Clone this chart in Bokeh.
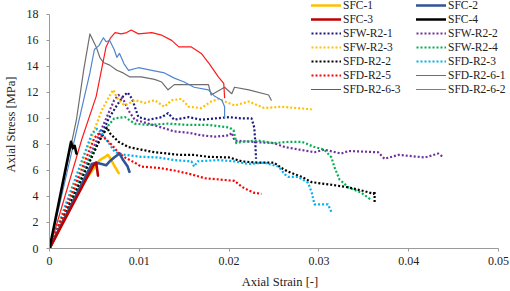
from bokeh.plotting import figure
from bokeh.models import Legend, LegendItem, FixedTicker, Range1d
from bokeh.embed import file_html
from bokeh.resources import INLINE

# ---------------- data ----------------
sfc1_x = [0, 0.0036, 0.0052, 0.0056, 0.0061, 0.0065, 0.0068, 0.0072, 0.0077]
sfc1_y = [0, 4.9, 6.4, 6.8, 7.0, 7.2, 6.9, 6.4, 5.8]

sfc2_x = [0, 0.0047, 0.0052, 0.0058, 0.0063, 0.0067, 0.0072, 0.0078, 0.0082, 0.0087, 0.0089]
sfc2_y = [0, 6.5, 6.6, 6.5, 6.4, 6.7, 7.0, 7.3, 6.8, 6.3, 5.9]

sfc3_x = [0, 0.0049, 0.0052, 0.0053, 0.0054]
sfc3_y = [0, 6.4, 6.6, 6.1, 5.6]

sfc4_x = [0, 0.0024, 0.0026, 0.0028, 0.0030]
sfc4_y = [0, 8.2, 7.7, 7.9, 7.3]

sfw1_x = [0, 0.0066, 0.0075, 0.0082, 0.0087, 0.0092, 0.0095, 0.0099, 0.0110, 0.0125, 0.0132,
          0.0139, 0.0155, 0.0169, 0.0184, 0.0200, 0.0214, 0.0225, 0.0228, 0.0229, 0.0230]
sfw1_y = [0, 10.0, 11.0, 11.7, 12.0, 11.5, 10.9, 10.1, 9.9, 10.1, 10.4,
          9.9, 10.1, 9.9, 10.0, 10.1, 10.0, 10.0, 9.3, 8.3, 6.9]

sfw2_x = [0, 0.0065, 0.0072, 0.0077, 0.0082, 0.0088, 0.0095, 0.0110, 0.0125, 0.0139, 0.0155,
          0.0169, 0.0184, 0.0200, 0.0203, 0.0206, 0.0225, 0.0250, 0.0262, 0.0295, 0.0306,
          0.0325, 0.0333, 0.0366, 0.0373, 0.0389, 0.0418, 0.0433, 0.0439]
sfw2_y = [0, 10.3, 11.4, 11.8, 11.5, 10.6, 9.9, 9.6, 9.3, 9.0, 8.9,
          8.7, 8.6, 8.7, 8.9, 8.3, 8.2, 8.1, 7.8, 7.4, 7.6,
          7.3, 7.5, 7.4, 6.9, 7.2, 7.0, 7.3, 7.0]

sfw3_x = [0, 0.0058, 0.0065, 0.0071, 0.0075, 0.0080, 0.0084, 0.0095, 0.0106, 0.0117, 0.0128,
          0.0136, 0.0147, 0.0155, 0.0169, 0.0180, 0.0188, 0.0206, 0.0222, 0.0239, 0.0258,
          0.0275, 0.0292]
sfw3_y = [0, 10.6, 11.5, 12.2, 11.6, 11.2, 11.0, 11.4, 11.2, 11.4, 10.9,
          11.4, 11.5, 10.9, 10.8, 11.3, 11.5, 11.0, 11.3, 10.8, 10.9,
          10.8, 10.7]

sfw4_x = [0, 0.0047, 0.0058, 0.0066, 0.0072, 0.0084, 0.0095, 0.0110, 0.0132, 0.0155, 0.0177,
          0.0200, 0.0205, 0.0208, 0.0214, 0.0232, 0.0250, 0.0266, 0.0281, 0.0295, 0.0306,
          0.0314, 0.0317, 0.0323, 0.0333, 0.0347, 0.0357]
sfw4_y = [0, 7.3, 8.6, 9.5, 10.0, 10.1, 9.6, 9.5, 9.6, 9.5, 9.5,
          9.3, 9.1, 8.1, 8.2, 8.3, 8.1, 8.2, 8.2, 7.8, 7.6,
          7.0, 6.3, 5.3, 4.7, 4.3, 3.8]

sfd2_x = [0, 0.0055, 0.0064, 0.0068, 0.0077, 0.0088, 0.0102, 0.0117, 0.0132, 0.0144, 0.0160,
          0.0177, 0.0200, 0.0214, 0.0232, 0.0250, 0.0258, 0.0266, 0.0281, 0.0292, 0.0314,
          0.0333, 0.0351, 0.0361, 0.0362, 0.0362]
sfd2_y = [0, 8.2, 9.3, 8.8, 8.2, 7.8, 7.6, 7.4, 7.3, 7.2, 7.2,
          7.05, 7.0, 6.7, 6.6, 6.6, 6.2, 5.9, 5.5, 5.1, 4.9,
          4.7, 4.4, 4.2, 4.4, 3.5]

sfd3_x = [0, 0.0047, 0.0053, 0.0058, 0.0066, 0.0073, 0.0084, 0.0102, 0.0121, 0.0139, 0.0158,
          0.0161, 0.0165, 0.0188, 0.0206, 0.0221, 0.0239, 0.0255, 0.0262, 0.0266, 0.0277,
          0.0288, 0.0292, 0.0295, 0.0310, 0.0314]
sfd3_y = [0, 8.8, 9.2, 8.9, 8.1, 7.4, 7.2, 7.05, 7.0, 6.8, 6.7,
          6.3, 6.7, 6.8, 6.7, 6.5, 6.6, 6.3, 5.7, 5.5, 5.5,
          5.05, 4.3, 3.4, 3.4, 2.8]

sfd5_x = [0, 0.0050, 0.0054, 0.0061, 0.0069, 0.0077, 0.0084, 0.0095, 0.0102, 0.0121, 0.0139,
          0.0158, 0.0173, 0.0190, 0.0206, 0.0214, 0.0221, 0.0227, 0.0236]
sfd5_y = [0, 8.5, 8.8, 8.5, 8.0, 7.35, 7.0, 6.6, 6.3, 6.2, 6.0,
          5.7, 5.4, 5.3, 5.2, 4.75, 4.5, 4.3, 4.2]

sfd61_x = [0, 0.0030, 0.0038, 0.0045, 0.0052, 0.0056, 0.0060, 0.0067, 0.0075, 0.0082, 0.0089,
           0.0102, 0.0117, 0.0125, 0.0132, 0.0139, 0.0158, 0.0177, 0.0180, 0.0195, 0.0203,
           0.0206, 0.0222, 0.0244, 0.0247]
sfd61_y = [0, 9.9, 13.7, 16.5, 15.5, 14.7, 14.3, 14.1, 13.7, 13.5, 13.2,
           13.2, 13.0, 12.8, 12.2, 12.6, 12.6, 12.6, 11.8, 12.4, 11.9,
           12.4, 12.2, 11.8, 11.4]

sfd63_x = [0, 0.0036, 0.0052, 0.0063, 0.0068, 0.0073, 0.0080, 0.0086, 0.0091, 0.0099, 0.0114,
           0.0125, 0.0136, 0.0144, 0.0158, 0.0169, 0.0178, 0.0188, 0.0194, 0.0195]
sfd63_y = [0, 8.4, 11.7, 15.5, 16.2, 16.6, 16.5, 16.6, 16.8, 16.5, 16.6,
           16.4, 16.0, 15.5, 15.5, 15.0, 14.2, 13.2, 12.7, 11.6]

sfd62_x = [0, 0.0033, 0.0045, 0.0050, 0.0055, 0.0060, 0.0063, 0.0067, 0.0072, 0.0075, 0.0078,
           0.0083, 0.0088, 0.0099, 0.0114, 0.0128, 0.0139, 0.0150, 0.0161, 0.0177, 0.0184,
           0.0192, 0.0195, 0.0195]
sfd62_y = [0, 9.9, 13.5, 15.3, 15.6, 16.2, 15.9, 16.0, 15.3, 14.7, 15.0,
           14.2, 13.7, 13.9, 13.7, 13.5, 13.1, 12.8, 12.4, 12.2, 11.7,
           11.4, 10.9, 10.0]

x_ticks = [0, 0.01, 0.02, 0.03, 0.04, 0.05]
x_tick_labels = ["0", "0.01", "0.02", "0.03", "0.04", "0.05"]
y_ticks = [0, 2, 4, 6, 8, 10, 12, 14, 16, 18]
x_min, x_max = 0, 0.05
y_min, y_max = 0, 18

# ---------------- styles ----------------
THICK, THIN, DOT = 2.6, 1.2, 2.2
series = [
    ("SFC-1", sfc1_x, sfc1_y, "#ffc000", THICK, "solid"),
    ("SFC-2", sfc2_x, sfc2_y, "#2f5597", THICK, "solid"),
    ("SFC-3", sfc3_x, sfc3_y, "#c00000", THICK, "solid"),
    ("SFC-4", sfc4_x, sfc4_y, "#000000", THICK, "solid"),
    ("SFW-R2-1", sfw1_x, sfw1_y, "#1a1a80", DOT, "2 2"),
    ("SFW-R2-2", sfw2_x, sfw2_y, "#7030a0", DOT, "2 2"),
    ("SFW-R2-3", sfw3_x, sfw3_y, "#ffc000", DOT, "2 2"),
    ("SFW-R2-4", sfw4_x, sfw4_y, "#00b050", DOT, "2 2"),
    ("SFD-R2-2", sfd2_x, sfd2_y, "#000000", DOT, "2 2"),
    ("SFD-R2-3", sfd3_x, sfd3_y, "#00b0f0", DOT, "2 2"),
    ("SFD-R2-5", sfd5_x, sfd5_y, "#ff0000", DOT, "2 2"),
    ("SFD-R2-6-1", sfd61_x, sfd61_y, "#6e6e6e", THIN, "solid"),
    ("SFD-R2-6-3", sfd63_x, sfd63_y, "#ff1a1a", THIN, "solid"),
    ("SFD-R2-6-2", sfd62_x, sfd62_y, "#4f86cf", THIN, "solid"),
]

FONT = "Liberation Serif"

# layout in pixels: plotted axes span x 48..498 and y 14..250; the frame is
# extended to the canvas top/right so the legend is not clipped.
W, H = 510, 291
AX_L, AX_R, AX_T, AX_B = 48, 498, 14, 250
px_per_x = (AX_R - AX_L) / (x_max - x_min)
px_per_y = (AX_B - AX_T) / (y_max - y_min)
x_range_end = x_max + (W - AX_R) / px_per_x
y_range_end = y_max + AX_T / px_per_y

p = figure(width=W, height=H, output_backend="svg", toolbar_location=None,
           x_range=Range1d(x_min, x_range_end), y_range=Range1d(y_min, y_range_end),
           min_border_left=AX_L, min_border_right=0, min_border_top=0,
           min_border_bottom=H - AX_B)
p.outline_line_color = None
p.xgrid.visible = False
p.ygrid.visible = False
p.background_fill_color = "white"

renderers = {}
order = [4, 5, 6, 7, 8, 9, 10, 11, 12, 13, 0, 1, 2, 3]
for i in order:
    name, xs, ys, color, w, dash = series[i]
    r = p.line(xs, ys, line_color=color, line_width=w, line_dash=dash,
               line_join="round", line_cap="round" if dash == "solid" else "butt")
    renderers[name] = r

for ax in (p.xaxis[0], p.yaxis[0]):
    ax.axis_line_color = "#9a9a9a"
    ax.major_tick_line_color = "#9a9a9a"
    ax.minor_tick_line_color = None
    ax.major_tick_in = 0
    ax.major_tick_out = 3
    ax.major_label_text_font = FONT
    ax.major_label_text_font_size = "12px"
    ax.major_label_text_color = "#222222"
    ax.axis_label_text_font = FONT
    ax.axis_label_text_font_size = "12.5px"
    ax.axis_label_text_font_style = "normal"
    ax.axis_label_text_color = "#222222"

p.xaxis.bounds = (x_min, x_max)
p.yaxis.bounds = (y_min, y_max)
p.xaxis.ticker = FixedTicker(ticks=x_ticks)
p.xaxis.major_label_overrides = {t: l for t, l in zip(x_ticks, x_tick_labels)}
p.yaxis.ticker = FixedTicker(ticks=y_ticks)
p.xaxis.axis_label = "Axial Strain [-]"
p.yaxis.axis_label = "Axial Stress [MPa]"
p.xaxis.major_label_standoff = 5
p.xaxis.axis_label_standoff = 7
p.yaxis.major_label_standoff = 8
p.yaxis.axis_label_standoff = 6

left_names = ["SFC-1", "SFC-3", "SFW-R2-1", "SFW-R2-3", "SFD-R2-2", "SFD-R2-5", "SFD-R2-6-3"]
right_names = ["SFC-2", "SFC-4", "SFW-R2-2", "SFW-R2-4", "SFD-R2-3", "SFD-R2-6-1", "SFD-R2-6-2"]

ROW_H = 14
LEG_H = ROW_H * len(left_names)

def make_legend(names, loc):
    return Legend(items=[LegendItem(label=n, renderers=[renderers[n]]) for n in names],
                  location=loc, orientation="vertical",
                  glyph_width=30, glyph_height=ROW_H, label_height=ROW_H, spacing=0,
                  padding=0, margin=0, label_standoff=2,
                  label_text_font=FONT, label_text_font_size="11.5px",
                  label_text_color="#222222",
                  border_line_color=None, background_fill_alpha=0)

leg_y = AX_B - LEG_H  # legend top at canvas top
p.add_layout(make_legend(left_names, (310 - AX_L, leg_y)), "center")
p.add_layout(make_legend(right_names, (415 - AX_L, leg_y)), "center")

open("out.html", "w").write(file_html(p, INLINE))
